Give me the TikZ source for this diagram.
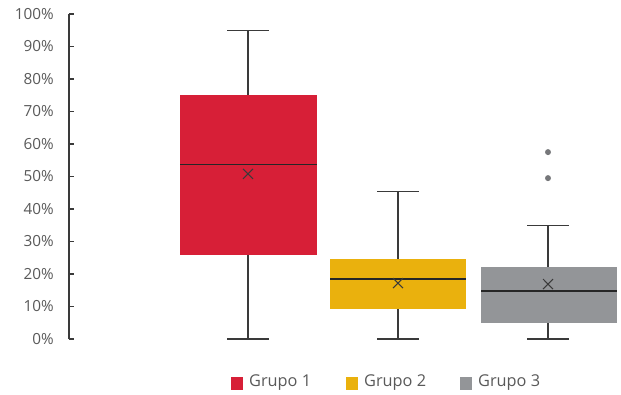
\documentclass[tikz,border=0pt]{standalone}
\usepackage{fontspec}
\setmainfont{Open Sans}
\usepackage{tikz}
\usetikzlibrary{positioning, calc}
\definecolor{grred}{HTML}{D71F37}
\definecolor{gryellow}{HTML}{EAB10D}
\definecolor{grgray}{HTML}{939598}
\definecolor{txtgray}{HTML}{595959}
\definecolor{linegray}{HTML}{3A3A3A}
\tikzset{
  whisk/.style={draw=linegray, line width=1.2pt},
  lbl/.style={text=txtgray, font=\fontsize{15.3}{18}\selectfont, inner sep=0pt},
  leg/.style={lbl, font=\fontsize{16.3}{19}\selectfont},
}

\begin{document}
\begin{tikzpicture}[x=1pt, y=1pt]
\useasboundingbox (0,0) rectangle (621,394);

%//chart area, y in percent
\begin{scope}[shift={(0,55)}, y=3.25pt]

\draw [whisk] (69,0) -- (69,100);
\foreach \y in {0,10,...,100}
{
\draw [whisk] (69,\y) -- (74,\y);
\node [lbl, anchor=east] (l\y) at (54,\y) {\y\%};
}

%// x-left/x-right/center/q1/q3/median/mean/top/colour
\foreach \xl/\xr/\xc/\qa/\qb/\med/\mn/\wt/\col in
  {180/317/248/26/75/53.7/50.8/95/grred,
   330/466/398/9.2/24.6/18.5/17.2/45.5/gryellow,
   481/617/548/4.9/22.2/14.8/16.9/34.8/grgray}
{
\coordinate (b\xc) at (\xc,\qa);
\coordinate (t\xc) at (\xc,\qb);
\coordinate (lo\xc) at (\xc,0);
\coordinate (hi\xc) at (\xc,\wt);
\draw [whisk] (lo\xc) -- (b\xc);
\draw [whisk] (t\xc) -- (hi\xc);
\draw [whisk] ($(lo\xc)+(-21,0)$) -- ($(lo\xc)+(21,0)$);
\draw [whisk] ($(hi\xc)+(-21,0)$) -- ($(hi\xc)+(21,0)$);
\fill [\col] (\xl,\qa) rectangle (\xr,\qb);
\draw [whisk, draw=black!85, line width=1.5pt] (\xl,\med) -- (\xr,\med);
\draw [whisk, line width=1pt] ($(\xc,\mn)+(-5,-1.55)$) -- ($(\xc,\mn)+(5,1.55)$);
\draw [whisk, line width=1pt] ($(\xc,\mn)+(-5,1.55)$) -- ($(\xc,\mn)+(5,-1.55)$);
}

%// outliers
\foreach \y in {49.5, 57.5}
\fill [grgray!80!black] (548,\y) circle (3pt);

\end{scope}

%// legend
\foreach \x/\col/\n in {231/grred/1, 346/gryellow/2, 460/grgray/3}
{
\fill [\col] (\x,4.5) rectangle (\x+12,17.5);
\node [leg, anchor=west] (g\n) at (\x+18,11) {Grupo \n};
}

\end{tikzpicture}
\end{document}
